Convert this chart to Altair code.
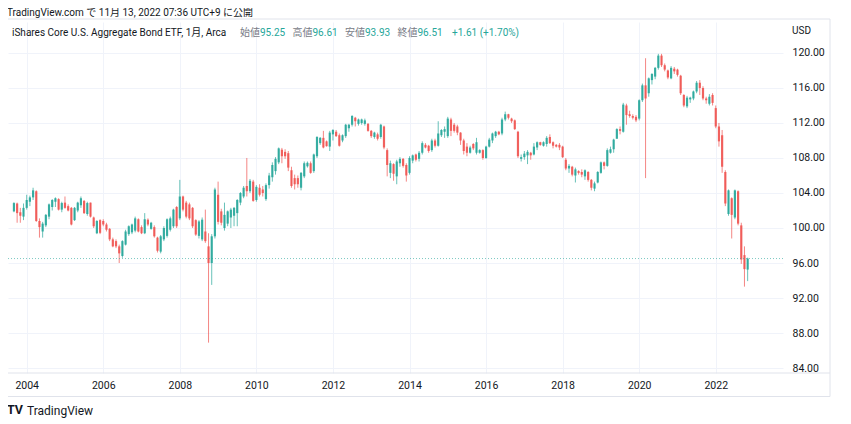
import altair as alt
import pandas as pd

# ---------------- data (monthly bars, Sep 2003 .. Nov 2022) ----------------
FIRST_YEAR, FIRST_MONTH = 2003, 9

OPEN = [
    101.9, 102.8, 101.8, 101.3,
    102.3, 103.0, 103.5, 104.2, 100.8, 99.6, 100.3, 101.3, 102.4, 103.0, 103.3, 102.1,
    102.9, 102.5, 102.3, 100.9, 102.0, 102.6, 103.1, 101.6, 102.9, 101.2, 99.4, 100.9,
    100.8, 100.4, 99.9, 98.7, 98.5, 97.9, 96.8, 98.1, 99.3, 99.5, 99.7, 101.0,
    100.1, 99.4, 100.95, 99.9, 100.1, 98.9, 97.3, 98.7, 99.1, 99.8, 100.2, 102.4,
    101.1, 103.6, 102.9, 102.7, 102.3, 100.9, 99.1, 98.7, 99.6, 97.9, 96.0, 99.05,
    103.8, 101.9, 100.0, 100.5, 101.2, 101.4, 101.7, 102.9, 103.6, 104.8, 104.2, 105.3,
    103.2, 104.6, 104.4, 103.3, 104.9, 105.8, 106.5, 107.5, 108.95, 108.7, 108.55, 106.6,
    105.7, 105.7, 104.6, 105.9, 107.05, 107.4, 106.5, 108.2, 109.7, 110.3, 109.9, 109.3,
    110.7, 111.0, 110.6, 110.0, 110.5, 111.4, 111.8, 112.6, 111.9, 112.0, 111.9, 111.9,
    111.1, 110.4, 110.7, 110.4, 111.6, 108.9, 106.3, 107.3, 105.9, 107.4, 107.9, 107.2,
    106.3, 107.7, 108.4, 107.9, 108.6, 109.5, 109.4, 108.9, 110.0, 109.4, 110.6, 111.0,
    110.5, 112.4, 111.8, 111.6, 110.9, 110.0, 109.3, 108.6, 109.6, 108.6, 108.6, 108.9,
    108.0, 109.3, 110.0, 110.5, 111.0, 110.8, 112.4, 113.0, 112.5, 112.3, 111.0, 107.9,
    108.1, 108.3, 108.6, 108.4, 109.2, 109.8, 109.4, 109.6, 110.4, 109.8, 109.5, 109.5,
    109.3, 107.8, 106.8, 107.0, 106.0, 106.5, 106.4, 105.9, 106.4, 105.5, 104.5, 105.2,
    106.3, 107.5, 107.1, 108.6, 109.0, 110.2, 111.3, 111.0, 114.0, 113.0, 112.8, 112.7,
    112.5, 114.6, 116.3, 115.4, 116.9, 117.3, 118.3, 119.7, 118.6, 118.0, 117.1, 118.2,
    118.1, 117.4, 115.2, 113.9, 114.7, 114.8, 115.6, 116.6, 116.0, 114.8, 114.2, 115.2,
    113.7, 111.6, 110.6, 106.4, 101.6, 103.4, 101.2, 104.2, 100.3, 96.9, 95.25,
]
HIGH = [
    102.95, 102.9, 102.3, 102.8,
    103.8, 103.7, 104.6, 104.3, 101.1, 100.7, 101.6, 102.8, 103.3, 103.5, 103.4, 103.0,
    103.6, 102.7, 102.4, 102.4, 103.0, 103.6, 103.2, 103.0, 102.9, 101.3, 100.9, 101.0,
    101.0, 100.6, 100.0, 98.9, 98.7, 98.1, 98.6, 99.8, 100.3, 100.5, 101.3, 101.1,
    100.3, 101.7, 101.1, 100.7, 100.3, 99.0, 99.2, 100.2, 101.1, 101.3, 102.2, 102.5,
    105.5, 103.7, 103.1, 102.9, 102.4, 101.0, 100.9, 101.2, 102.1, 99.4, 99.3, 104.6,
    105.3, 102.2, 102.9, 102.0, 102.3, 102.4, 103.3, 104.1, 104.8, 108.0, 105.6, 105.5,
    104.9, 105.0, 104.8, 105.1, 106.3, 107.5, 108.1, 109.2, 109.15, 109.0, 108.8, 107.0,
    106.1, 106.0, 106.4, 107.6, 107.6, 107.6, 108.5, 110.5, 110.4, 111.1, 110.0, 111.1,
    111.3, 111.2, 110.8, 110.7, 111.9, 111.9, 112.9, 112.7, 112.5, 112.5, 112.5, 112.0,
    111.2, 111.0, 110.9, 111.9, 111.7, 109.1, 107.7, 107.4, 107.8, 108.1, 108.0, 107.4,
    108.2, 108.4, 108.5, 108.8, 109.9, 109.7, 109.5, 110.2, 110.2, 112.2, 111.3, 111.6,
    112.7, 112.6, 112.0, 111.8, 110.95, 110.2, 109.7, 109.4, 109.7, 110.3, 109.0, 109.0,
    109.4, 110.3, 110.9, 111.1, 111.1, 112.6, 113.3, 113.05, 112.6, 112.4, 111.1, 108.4,
    108.8, 108.9, 108.7, 109.7, 109.9, 109.85, 109.9, 110.5, 110.7, 109.9, 109.6, 109.7,
    109.4, 108.0, 107.3, 107.1, 106.9, 106.6, 106.7, 106.7, 106.5, 105.6, 105.3, 106.5,
    107.6, 107.6, 109.1, 109.3, 110.2, 111.4, 111.6, 114.3, 114.2, 113.4, 113.0, 112.9,
    114.7, 116.5, 119.4, 117.2, 117.7, 118.4, 119.9, 119.9, 118.8, 118.1, 118.5, 118.4,
    118.2, 117.5, 115.3, 115.1, 115.0, 115.7, 116.8, 116.9, 116.2, 115.0, 115.3, 115.4,
    114.0, 112.0, 111.2, 106.6, 104.4, 103.5, 104.4, 104.3, 100.6, 97.9, 96.61,
]
LOW = [
    101.8, 100.6, 100.6, 100.9,
    102.1, 102.5, 103.2, 100.7, 98.9, 98.9, 100.1, 101.0, 102.0, 102.4, 102.0, 101.8,
    102.2, 101.9, 100.3, 100.8, 101.8, 102.3, 101.6, 101.4, 101.2, 100.0, 99.3, 99.3,
    100.2, 99.6, 98.5, 97.8, 97.7, 96.0, 96.6, 98.0, 99.1, 99.3, 99.5, 99.5,
    99.3, 99.3, 100.2, 99.8, 98.9, 97.2, 97.1, 98.5, 98.9, 99.6, 100.0, 100.0,
    100.9, 101.9, 101.1, 100.9, 100.0, 99.1, 98.8, 98.5, 98.3, 86.9, 93.5, 98.8,
    100.4, 100.3, 99.7, 100.2, 100.0, 100.2, 100.2, 102.6, 103.4, 103.6, 104.0, 103.0,
    103.0, 103.6, 103.6, 103.1, 104.5, 105.3, 106.1, 107.3, 107.4, 107.9, 106.5, 104.6,
    104.4, 104.6, 104.3, 105.7, 106.9, 106.2, 106.3, 108.0, 109.5, 109.1, 109.3, 108.8,
    110.0, 110.4, 109.3, 109.8, 110.3, 111.0, 111.6, 111.6, 111.7, 111.8, 111.7, 111.0,
    110.3, 110.2, 110.0, 110.2, 109.0, 105.9, 105.7, 105.4, 105.0, 107.0, 106.9, 105.3,
    106.1, 107.4, 107.6, 107.6, 108.4, 109.1, 108.6, 108.7, 109.2, 109.3, 110.4, 110.3,
    110.3, 110.5, 110.9, 110.6, 109.5, 108.4, 108.2, 108.5, 108.9, 108.4, 108.5, 107.8,
    107.9, 109.2, 109.7, 110.3, 110.6, 110.6, 112.2, 112.4, 112.0, 111.2, 108.0, 107.6,
    107.8, 107.3, 107.8, 108.3, 108.9, 109.4, 109.3, 109.3, 109.6, 109.1, 109.2, 108.9,
    108.0, 106.6, 106.3, 105.9, 105.2, 106.1, 105.8, 105.5, 105.3, 104.3, 104.2, 105.1,
    106.2, 106.7, 107.0, 108.5, 108.6, 110.2, 110.7, 110.9, 111.8, 112.6, 112.4, 112.1,
    112.3, 114.4, 105.7, 115.0, 116.4, 117.0, 118.1, 118.4, 117.9, 117.0, 117.0, 117.6,
    117.3, 115.2, 113.8, 113.7, 114.3, 114.6, 115.4, 115.2, 114.6, 114.2, 114.0, 114.0,
    111.4, 109.3, 106.3, 102.5, 101.4, 98.8, 101.0, 100.3, 95.9, 93.3, 93.93,
]
CLOSE = [
    102.85, 101.7, 101.4, 102.3,
    103.2, 103.5, 104.3, 100.8, 100.1, 100.5, 101.5, 102.7, 103.2, 103.4, 102.1, 102.85,
    102.3, 102.0, 100.4, 102.3, 102.9, 103.4, 101.7, 102.85, 101.3, 100.2, 100.8, 99.45,
    100.4, 99.8, 98.7, 97.9, 97.9, 97.1, 98.5, 99.6, 100.2, 100.4, 101.1, 99.6,
    99.4, 101.0, 100.4, 100.6, 99.05, 97.4, 99.05, 100.0, 101.0, 101.1, 102.1, 100.2,
    103.6, 102.1, 101.3, 101.1, 100.2, 99.25, 100.75, 100.95, 98.5, 96.0, 99.05, 104.4,
    100.7, 100.6, 101.5, 101.9, 102.1, 102.3, 103.2, 104.0, 104.6, 104.2, 105.4, 103.1,
    104.7, 103.8, 104.0, 104.9, 106.0, 107.2, 107.9, 109.1, 108.2, 108.2, 106.9, 104.8,
    105.0, 105.0, 106.3, 107.4, 107.45, 106.3, 108.4, 110.4, 110.3, 109.2, 109.35, 110.9,
    111.2, 110.5, 109.4, 110.6, 111.8, 111.8, 112.8, 112.2, 112.4, 112.4, 112.3, 111.1,
    110.5, 110.9, 110.2, 111.8, 109.2, 107.2, 107.4, 106.2, 107.6, 107.9, 107.1, 106.0,
    108.0, 108.3, 107.8, 108.6, 109.7, 109.2, 108.8, 110.0, 109.4, 110.8, 111.2, 111.3,
    112.5, 111.1, 111.1, 110.9, 110.0, 108.8, 108.6, 109.2, 109.1, 109.8, 108.9, 108.0,
    109.3, 110.1, 110.8, 111.0, 110.7, 112.4, 113.0, 112.6, 112.2, 111.3, 108.2, 108.1,
    108.5, 108.7, 108.3, 109.3, 109.8, 109.5, 109.8, 110.3, 109.7, 109.4, 109.3, 109.2,
    108.1, 106.8, 107.1, 106.1, 106.7, 106.3, 106.1, 106.6, 105.5, 104.6, 105.1, 106.4,
    107.5, 107.1, 108.9, 109.0, 110.1, 111.3, 111.1, 114.1, 112.9, 112.8, 112.6, 112.3,
    114.6, 116.3, 114.8, 117.1, 117.6, 118.3, 119.7, 118.6, 118.1, 117.2, 118.3, 117.9,
    117.5, 115.4, 114.0, 114.9, 114.9, 115.6, 116.6, 116.0, 114.8, 114.6, 115.0, 114.3,
    111.6, 109.9, 107.0, 102.8, 104.3, 101.5, 104.3, 100.5, 96.4, 95.3, 96.51,
]

YEAR_LABELS = [2004, 2006, 2008, 2010, 2012, 2014, 2016, 2018, 2020, 2022]
PRICE_TICKS = [84, 88, 92, 96, 100, 104, 108, 112, 116, 120]
LAST_PRICE = 96.51

HEADER = "TradingView.com で 11月 13, 2022 07:36 UTC+9 に公開"
SYMBOL = "iShares Core U.S. Aggregate Bond ETF, 1月, Arca"
OHLC_LABELS = ["始値", "高値", "安値", "終値"]
OHLC_VALUES = ["95.25", "96.61", "93.93", "96.51"]
CHANGE = "+1.61 (+1.70%)"

UP, DOWN = "#26a69a", "#ef5350"
FONT = "Roboto, 'Noto Sans CJK JP', sans-serif"
TXT = "#131722"

# ---------------- table ----------------
n = len(CLOSE)
df = pd.DataFrame({
    "i": list(range(n)),
    "open": OPEN, "high": HIGH, "low": LOW, "close": CLOSE,
})
df["dir"] = ["up" if c >= o else "down" for o, c in zip(df["open"], df["close"])]

W, H = 775, 351
# month index of January of each labelled year
tick_idx = [(y - FIRST_YEAR) * 12 + (1 - FIRST_MONTH) for y in YEAR_LABELS]

xscale = alt.Scale(domain=[-1.862, 241.08], nice=False, zero=False)
yscale = alt.Scale(domain=[83.43, 123.54], nice=False, zero=False)
color = alt.Color("dir:N", scale=alt.Scale(domain=["up", "down"], range=[UP, DOWN]), legend=None)

xaxis = alt.Axis(
    values=tick_idx, labelExpr=f"format({FIRST_YEAR} + (datum.value + {FIRST_MONTH - 1})/12, 'd')",
    grid=True, gridColor="#f0f3fa", domain=False, ticks=False, tickSize=0,
    labelPadding=7, labelBaseline="top", labelFontSize=10.5, labelColor=TXT,
    labelFont=FONT, title=None, labelFlush=False, labelOverlap=False,
)
yaxis = alt.Axis(
    values=PRICE_TICKS, format=".2f", orient="right", grid=True, gridColor="#f0f3fa",
    domain=False, ticks=False, tickSize=0, labelPadding=9, labelAlign="left",
    labelFontSize=10.5, labelColor=TXT, labelFont=FONT, title=None, labelFlush=False,
)

base = alt.Chart(df)

wicks = base.mark_rule(strokeWidth=1, opacity=0.7).encode(
    x=alt.X("i:Q", scale=xscale, axis=xaxis),
    y=alt.Y("low:Q", scale=yscale, axis=yaxis),
    y2="high:Q",
    color=color,
)
bodies = base.mark_rule(strokeWidth=2.2, opacity=0.88).encode(
    x=alt.X("i:Q", scale=xscale, axis=xaxis),
    y=alt.Y("open:Q", scale=yscale, axis=yaxis),
    y2="close:Q",
    color=color,
)

last_line = alt.Chart(pd.DataFrame({"p": [LAST_PRICE]})).mark_rule(
    color=UP, strokeDash=[1, 2], strokeWidth=1, opacity=0.6
).encode(
    y=alt.Y("p:Q", scale=yscale, axis=yaxis), x=alt.value(0), x2=alt.value(W)
)

# frame lines
frame = alt.Chart(pd.DataFrame({"a": [0]})).mark_rect(
    fill="transparent", stroke="#e0e3eb", strokeWidth=1
).encode(x=alt.value(-1), x2=alt.value(822), y=alt.value(-3), y2=alt.value(374.5))
time_line = alt.Chart(pd.DataFrame({"a": [0]})).mark_rule(
    color="#e0e3eb", strokeWidth=1
).encode(x=alt.value(-1), x2=alt.value(822), y=alt.value(H))


def label(text, x, y, size=10, col=TXT, weight="normal"):
    return alt.Chart(pd.DataFrame({"t": [text]})).mark_text(
        align="left", baseline="middle", fontSize=size, color=col, font=FONT, fontWeight=weight
    ).encode(text="t:N", x=alt.value(x), y=alt.value(y))


texts = [
    label(HEADER, -1, -9, 10),
    label(SYMBOL, 4, 11, 10),
    label("USD", 784, 9, 10),
    label("TV", -1, 388, 12.5, TXT, "bold"),
    label("TradingView", 19, 389, 12, TXT),
]
lab_x = [232, 284.5, 337, 389.5]
val_x = [252, 304.5, 357, 409.5]
for t, v, lx, vx in zip(OHLC_LABELS, OHLC_VALUES, lab_x, val_x):
    texts.append(label(t, lx, 11, 10, "#787b86"))
    texts.append(label(v, vx, 11, 10, UP))
texts.append(label(CHANGE, 444, 11, 10, UP))

chart = alt.layer(frame, time_line, wicks, bodies, last_line, *texts).properties(
    width=W, height=H,
    autosize=alt.AutoSizeParams(type="none"),
    padding={"left": 0, "top": 14, "right": 60, "bottom": 49},
    background="white",
).configure_view(stroke="transparent")

chart.save("out.html", embed_options={"renderer": "svg", "actions": False})
